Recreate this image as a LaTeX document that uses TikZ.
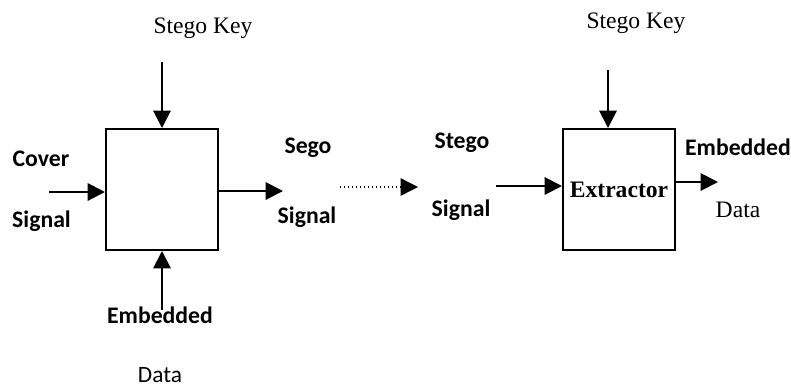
\documentclass[tikz,border=0pt]{standalone}
\usepackage{fontspec}
\setmainfont{Liberation Serif}
\newfontfamily\calibri{Carlito}
\usetikzlibrary{arrows.meta,calc}

\tikzset{
  sanslbl/.style={font=\calibri\bfseries\fontsize{17.8}{20}\selectfont,inner sep=0pt},
  sansreg/.style={font=\calibri\fontsize{17.5}{20}\selectfont,inner sep=0pt},
  seriflbl/.style={font=\fontsize{17.7}{20}\selectfont,inner sep=0pt},
  blockbox/.style={draw,line width=1.5pt,minimum width=84pt,minimum height=90.75pt,inner sep=0pt},
  arr/.style={line width=1.5pt,-{Triangle[length=13pt,width=13pt]}},
  dotarr/.style={line width=1pt,dotted,-{Triangle[length=13pt,width=13pt]}}
}

\begin{document}
\begin{tikzpicture}[x=0.75pt,y=-0.75pt]
  \useasboundingbox (0,0) rectangle (791,390);
  % embedding side
  \node[blockbox] (enc) at (162,189.5) {};
  \node[seriflbl] (keyl) at (203,28) {Stego Key};
  \node[sanslbl] (cover) at (41,159) {Cover};
  \node[sanslbl] (sigl) at (41.5,221) {Signal};
  \node[sanslbl] (sego) at (308,148) {Sego};
  \node[sanslbl] (sigm) at (307,217) {Signal};
  \node[sanslbl] (embl) at (160,315) {Embedded};
  \node[sansreg] (datal) at (160,375) {Data};
  \coordinate (kl) at (162,62);
  \coordinate (cin) at (49,192);
  \coordinate (eout) at (283,191);
  \coordinate (ein) at (162,310);
  \draw[arr] (kl) -- (kl |- enc.north);
  \draw[arr] (cin) -- (cin -| enc.west);
  \draw[arr] (eout -| enc.east) -- (eout);
  \draw[arr] (ein) -- (ein |- enc.south);
  % channel
  \coordinate (ch1) at (340,187);
  \coordinate (ch2) at (418,187);
  \draw[dotarr] (ch1) -- (ch2);
  % extraction side
  \node[blockbox,font=\bfseries\fontsize{17.7}{20}\selectfont] (ext) at (619,189.5) {Extractor};
  \node[seriflbl] (keyr) at (636,23) {Stego Key};
  \node[sanslbl] (stego) at (462,143) {Stego};
  \node[sanslbl] (sigr) at (461,210) {Signal};
  \node[sanslbl] (embr) at (738,147) {Embedded};
  \node[seriflbl] (datar) at (738,210) {Data};
  \coordinate (kr) at (608,70);
  \coordinate (xin) at (496,186);
  \coordinate (xout) at (718,182);
  \draw[arr] (kr) -- (kr |- ext.north);
  \draw[arr] (xin) -- (xin -| ext.west);
  \draw[arr] (xout -| ext.east) -- (xout);
\end{tikzpicture}
\end{document}
